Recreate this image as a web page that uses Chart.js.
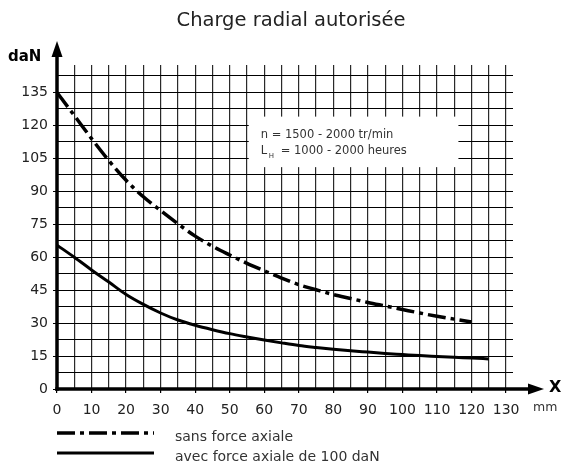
<!DOCTYPE html>
<html>
<head>
<meta charset="utf-8">
<script src="https://cdn.jsdelivr.net/npm/chart.js@4/dist/chart.umd.min.js"></script>
<style>
  html, body { margin: 0; padding: 0; background: #fff; }
</style>
</head>
<body>
<canvas id="chart" width="564" height="465"></canvas>
<script>
// values
const titleText = 'Charge radial autorisée';
const seriesLabels = ['sans force axiale', 'avec force axiale de 100 daN'];

const distSans = [0, 5, 10, 15, 20, 25, 30, 35, 40, 45, 50, 55, 60, 65, 70, 75, 80, 85, 90, 95, 100, 105, 110, 115, 120];
const chargeSans = [135, 124.5, 114, 104, 95, 87.5, 81.2, 75.2, 69.6, 65, 61, 57.2, 53.8, 50.5, 47.5, 45.2, 43, 41.2, 39.4, 37.8, 36.2, 34.6, 33.1, 31.8, 30.5];

const distAvec = [0, 5, 10, 15, 20, 25, 30, 35, 40, 45, 50, 55, 60, 65, 70, 75, 80, 85, 90, 95, 100, 105, 110, 115, 120, 125];
const chargeAvec = [65.5, 60, 54.2, 48.7, 43, 38.5, 34.6, 31.4, 29, 27, 25.2, 23.7, 22.3, 21, 19.8, 18.9, 18.1, 17.4, 16.8, 16.2, 15.7, 15.2, 14.8, 14.4, 14.1, 13.7];

const infoLine1 = 'n = 1500 - 2000 tr/min';
const infoLine2 = ['L', 'H', '= 1000 - 2000 heures'];

// white box behind the operating conditions, in axis units [x1, x2, y1, y2]
const infoBox = [55.5, 116.2, 101, 124];

Chart.defaults.font.family = 'DejaVu Sans';

const toPoints = (xs, ys) => xs.map((x, i) => ({ x: x, y: ys[i] }));

const decor = {
  id: 'decor',
  beforeDatasetsDraw(chart) {
    const { ctx, scales: { x, y } } = chart;
    const l = x.getPixelForValue(infoBox[0]);
    const r = x.getPixelForValue(infoBox[1]);
    const t = y.getPixelForValue(infoBox[3]);
    const b = y.getPixelForValue(infoBox[2]);
    ctx.save();
    ctx.fillStyle = '#fff';
    ctx.fillRect(l, t, r - l, b - t);
    ctx.fillStyle = '#333';
    ctx.textBaseline = 'middle';
    ctx.textAlign = 'left';
    ctx.font = '11.5px "DejaVu Sans"';
    ctx.fillText(infoLine1, l + 12, t + 18);
    ctx.fillText(infoLine2[0], l + 12, t + 34);
    ctx.fillText(infoLine2[2], l + 32, t + 34);
    ctx.font = '7px "DejaVu Sans"';
    ctx.fillText(infoLine2[1], l + 20, t + 40);
    ctx.restore();
  },
  afterDraw(chart) {
    const { ctx, scales: { x, y } } = chart;
    const x0 = x.getPixelForValue(0);
    const y0 = y.getPixelForValue(0);
    ctx.save();
    ctx.strokeStyle = '#000';
    ctx.fillStyle = '#000';
    ctx.lineWidth = 3.5;

    // y axis with arrow
    ctx.beginPath();
    ctx.moveTo(x0, y0 + 1.75);
    ctx.lineTo(x0, 55);
    ctx.stroke();
    ctx.beginPath();
    ctx.moveTo(x0, 41);
    ctx.lineTo(x0 - 5.5, 57);
    ctx.lineTo(x0 + 5.5, 57);
    ctx.closePath();
    ctx.fill();

    // x axis with arrow
    ctx.beginPath();
    ctx.moveTo(x0 - 1.75, y0);
    ctx.lineTo(530, y0);
    ctx.stroke();
    ctx.beginPath();
    ctx.moveTo(544, y0);
    ctx.lineTo(528, y0 - 5.5);
    ctx.lineTo(528, y0 + 5.5);
    ctx.closePath();
    ctx.fill();

    ctx.textBaseline = 'middle';
    ctx.textAlign = 'left';
    ctx.font = 'bold 15px "DejaVu Sans"';
    ctx.fillText('daN', 8, 57);
    ctx.font = 'bold 16px "DejaVu Sans"';
    ctx.fillText('X', 549, y0 - 1);
    ctx.fillStyle = '#333';
    ctx.font = '12.5px "DejaVu Sans"';
    ctx.fillText('mm', 533, 408);

    // legend, one row per dataset
    const rows = [433, 453];
    chart.data.datasets.forEach((ds, i) => {
      ctx.strokeStyle = '#000';
      ctx.lineWidth = ds.borderWidth;
      ctx.setLineDash(ds.borderDash || []);
      ctx.beginPath();
      ctx.moveTo(57, rows[i]);
      ctx.lineTo(154, rows[i]);
      ctx.stroke();
      ctx.setLineDash([]);
      ctx.fillStyle = '#333';
      ctx.font = '14px "DejaVu Sans"';
      ctx.fillText(ds.label, 175, rows[i] + 4);
    });
    ctx.restore();
  }
};

new Chart(document.getElementById('chart'), {
  type: 'line',
  data: {
    datasets: [
      {
        label: seriesLabels[0],
        data: toPoints(distSans, chargeSans),
        borderColor: '#000',
        borderWidth: 3.5,
        borderDash: [18, 5, 4, 5],
        pointRadius: 0,
        cubicInterpolationMode: 'monotone',
        fill: false
      },
      {
        label: seriesLabels[1],
        data: toPoints(distAvec, chargeAvec),
        borderColor: '#000',
        borderWidth: 3,
        pointRadius: 0,
        cubicInterpolationMode: 'monotone',
        fill: false
      }
    ]
  },
  options: {
    responsive: false,
    animation: false,
    devicePixelRatio: 1,
    layout: { padding: { left: 18, right: 0, top: 0, bottom: 0 } },
    plugins: {
      legend: { display: false },
      tooltip: { enabled: false },
      title: {
        display: true,
        text: titleText,
        color: '#222',
        font: { size: 19.5, weight: 'normal' },
        padding: { top: 9, bottom: 32.6 }
      }
    },
    scales: {
      x: {
        type: 'linear',
        min: 0,
        max: 132,
        border: { display: false },
        grid: {
          color: '#2a2a2a',
          lineWidth: 1.2,
          drawTicks: true,
          tickLength: 4,
          tickColor: c => (c.tick && c.tick.value % 10 === 0) ? '#000' : 'rgba(0,0,0,0)'
        },
        ticks: {
          stepSize: 5,
          includeBounds: false,
          autoSkip: false,
          maxRotation: 0,
          padding: 9,
          color: '#222',
          font: { size: 14 },
          callback: v => v % 10 === 0 ? String(v) : ''
        },
        afterFit: s => { s.height = 76; }
      },
      y: {
        min: 0,
        max: 147.5,
        border: { display: false },
        grid: {
          color: '#000',
          lineWidth: 1,
          drawTicks: true,
          tickLength: 4,
          tickColor: c => (c.tick && c.tick.value % 15 === 0) ? '#000' : 'rgba(0,0,0,0)'
        },
        ticks: {
          stepSize: 7.5,
          includeBounds: false,
          autoSkip: false,
          padding: 5,
          color: '#222',
          font: { size: 14 },
          callback: v => v % 15 === 0 ? String(v) : ''
        },
        afterFit: s => { s.width = 39; }
      },
      yR: {
        position: 'right',
        display: true,
        grid: { display: false },
        border: { display: false },
        ticks: { display: false },
        afterFit: s => { s.width = 51; }
      }
    }
  },
  plugins: [decor]
});
</script>
</body>
</html>
